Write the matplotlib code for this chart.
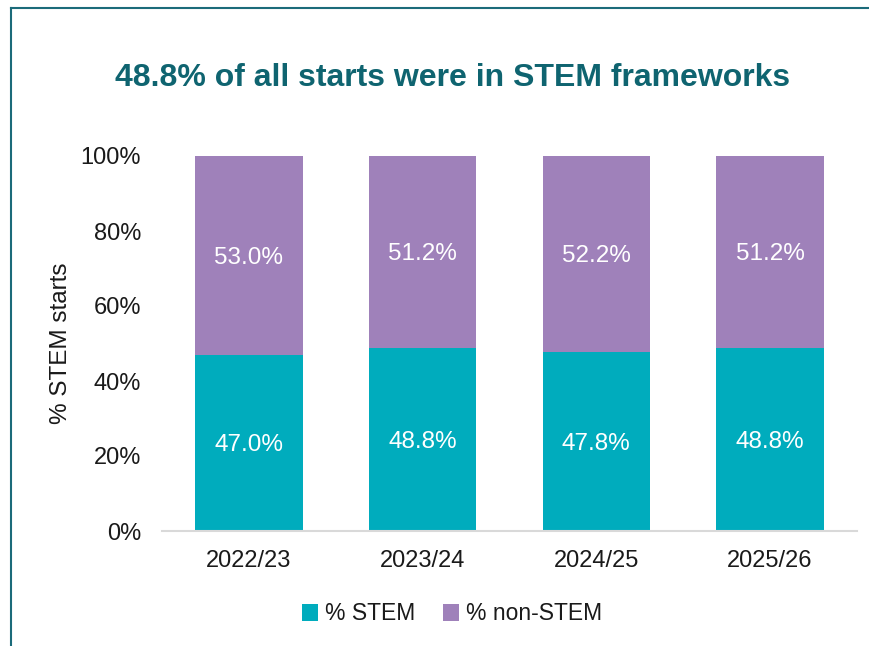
import matplotlib
matplotlib.use("Agg")
import matplotlib.pyplot as plt
from matplotlib.lines import Line2D
from matplotlib.patches import Patch

years = ["2022/23", "2023/24", "2024/25", "2025/26"]
stem = [47.0, 48.8, 47.8, 48.8]
non_stem = [53.0, 51.2, 52.2, 51.2]
yticks = [0, 20, 40, 60, 80, 100]

teal = "#00ACBD"
purple = "#9F81BA"
title_col = "#0F6470"
txt = "#1A1A1A"

plt.rcParams['font.family'] = ['Liberation Sans', 'DejaVu Sans']

W, H = 870, 646
fig = plt.figure(figsize=(W / 100, H / 100), dpi=100)
ax = fig.add_axes([162 / W, 1 - 531 / H, (857 - 162) / W, (531 - 156) / H])

x = list(range(len(years)))
ax.bar(x, stem, width=0.62, color=teal, label="% STEM")
ax.bar(x, non_stem, width=0.62, bottom=stem, color=purple, label="% non-STEM")

for xi, s, n in zip(x, stem, non_stem):
    ax.text(xi, s / 2, f"{s:.1f}%", ha="center", va="center_baseline", color="white", fontsize=17.5)
    ax.text(xi, s + n / 2, f"{n:.1f}%", ha="center", va="center_baseline", color="white", fontsize=17.5)

ax.set_xlim(-0.5, len(years) - 0.5)
ax.set_ylim(0, 100)
ax.set_yticks(yticks)
ax.set_yticklabels([f"{t}%" for t in yticks], fontsize=17, color=txt)
ax.set_xticks(x)
ax.set_xticklabels(years, fontsize=17, color=txt)
ax.tick_params(axis="x", length=0, pad=14)
ax.tick_params(axis="y", length=0, pad=15)
for sp in ["top", "right", "left"]:
    ax.spines[sp].set_visible(False)
ax.spines["bottom"].set_color("#D9D9D9")
ax.spines["bottom"].set_linewidth(1.5)
ax.set_ylabel("% STEM starts", fontsize=17.5, color=txt)
ax.yaxis.set_label_coords(-0.13, 0.5)

fig.text(453 / W, 1 - 78 / H, "48.8% of all starts were in STEM frameworks",
         ha="center", va="center", fontsize=23, fontweight="bold", color=title_col)

handles = [Patch(facecolor=teal, label="% STEM"), Patch(facecolor=purple, label="% non-STEM")]
fig.legend(handles=handles, loc="center", bbox_to_anchor=(452 / W, 1 - 614 / H), ncol=2,
           frameon=False, fontsize=16.5, handlelength=0.7, handleheight=0.7,
           handletextpad=0.3, columnspacing=1.2, labelcolor=txt)

border = "#1B6B7A"
fig.add_artist(Line2D([11 / W, 1], [1 - 8 / H, 1 - 8 / H], color=border, lw=1.5, transform=fig.transFigure))
fig.add_artist(Line2D([11 / W, 11 / W], [0, 1 - 8 / H], color=border, lw=1.5, transform=fig.transFigure))

fig.savefig("out.png", dpi=100)
